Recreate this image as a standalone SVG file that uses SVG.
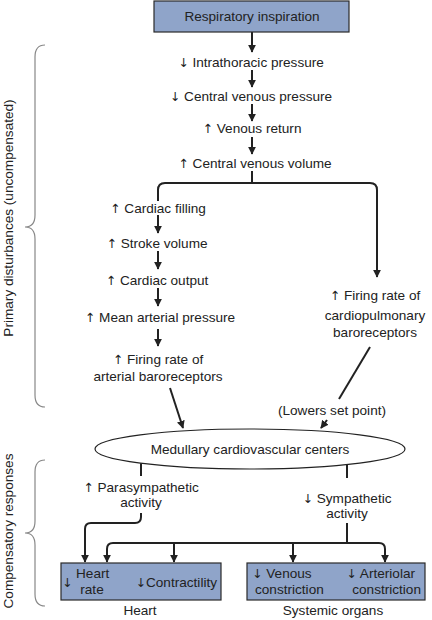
<svg xmlns="http://www.w3.org/2000/svg" width="432" height="620" viewBox="0 0 432 620">
<defs>
<style>
text{font-family:"Liberation Sans",Arial,sans-serif;font-size:13.6px;fill:#222;}
.m{text-anchor:middle;}
.e{text-anchor:end;}
.a{font-family:"DejaVu Sans",sans-serif;font-size:12.5px;fill:#222;}
.box{fill:#8fa4c9;stroke:#2a2a2a;stroke-width:1.2;}
.ln{fill:none;stroke:#222;stroke-width:2;}
.br{fill:none;stroke:#888;stroke-width:1.2;}
</style>
<marker id="ah" viewBox="0 0 10 10" refX="9" refY="5" markerWidth="4" markerHeight="4" orient="auto" markerUnits="strokeWidth">
<path d="M0,0 L10,5 L0,10 z" fill="#222"/>
</marker>
</defs>
<rect width="432" height="620" fill="#fff"/>

<g id="side-labels">
<path class="br" d="M45,45 Q35,45 35,57 L35,215 Q35,227 25,227 Q35,227 35,239 L35,395 Q35,407 45,407"/>
<path class="br" d="M45,460 Q35,460 35,472 L35,521 Q35,533 25,533 Q35,533 35,545 L35,594 Q35,606 45,606"/>
<text class="m" transform="translate(13,218) rotate(-90)">Primary disturbances (uncompensated)</text>
<text class="m" transform="translate(13,531) rotate(-90)">Compensatory responses</text>
</g>

<g id="connectors">
<path class="ln" d="M252,32 L252,52" marker-end="url(#ah)"/>
<path class="ln" d="M252,70 L252,87" marker-end="url(#ah)"/>
<path class="ln" d="M252,104 L252,121" marker-end="url(#ah)"/>
<path class="ln" d="M252,137 L252,154" marker-end="url(#ah)"/>
<path class="ln" d="M252,171 L252,183"/>
<path class="ln" d="M158,201 L158,190 Q158,183 165,183 L370,183 Q377,183 377,190 L377,277" marker-end="url(#ah)"/>
<path class="ln" d="M158,215 L158,233" marker-end="url(#ah)"/>
<path class="ln" d="M158,251 L158,269" marker-end="url(#ah)"/>
<path class="ln" d="M158,288 L158,306" marker-end="url(#ah)"/>
<path class="ln" d="M158,329 L158,346" marker-end="url(#ah)"/>
<path class="ln" d="M170,388 L183,428" marker-end="url(#ah)"/>
<path class="ln" d="M370,347 L339,399"/>
<path class="ln" d="M327,420 L321,428" marker-end="url(#ah)"/>
<path class="ln" d="M141,463 L141,476"/>
<path class="ln" d="M141,513 L141,517 Q141,523 135,523 L91,523 Q85,523 85,529 L85,562" marker-end="url(#ah)"/>
<path class="ln" d="M347,465 L347,478"/>
<path class="ln" d="M347,523 L347,543"/>
<path class="ln" d="M107,562 L107,549 Q107,543 113,543 L379,543 Q385,543 385,549 L385,562" marker-end="url(#ah)"/>
<path class="ln" d="M107,549 L107,562" marker-end="url(#ah)"/>
<path class="ln" d="M174,543 L174,562" marker-end="url(#ah)"/>
<path class="ln" d="M293,543 L293,562" marker-end="url(#ah)"/>
</g>

<g id="n-inspiration">
<rect class="box" x="154" y="1" width="195" height="31"/>
<text class="m" x="252" y="21">Respiratory inspiration</text>
</g>
<g id="n-intrathoracic"><text class="m" x="251" y="67"><tspan class="a">↓</tspan> Intrathoracic pressure</text></g>
<g id="n-cvp"><text class="m" x="251" y="101"><tspan class="a">↓</tspan> Central venous pressure</text></g>
<g id="n-venous-return"><text class="m" x="252" y="133"><tspan class="a">↑</tspan> Venous return</text></g>
<g id="n-cvv"><text class="m" x="255" y="168"><tspan class="a">↑</tspan> Central venous volume</text></g>
<g id="n-filling"><text class="m" x="158" y="213"><tspan class="a">↑</tspan> Cardiac filling</text></g>
<g id="n-stroke"><text class="m" x="157" y="248"><tspan class="a">↑</tspan> Stroke volume</text></g>
<g id="n-output"><text class="m" x="157" y="285"><tspan class="a">↑</tspan> Cardiac output</text></g>
<g id="n-map"><text class="m" x="160" y="322"><tspan class="a">↑</tspan> Mean arterial pressure</text></g>
<g id="n-arterial-baro">
<text class="m" x="158" y="364"><tspan class="a">↑</tspan> Firing rate of</text>
<text class="m" x="158" y="381">arterial baroreceptors</text>
</g>
<g id="n-cardiopulm-baro">
<text class="m" x="375" y="300"><tspan class="a">↑</tspan> Firing rate of</text>
<text class="m" x="375" y="320">cardiopulmonary</text>
<text class="m" x="375" y="337">baroreceptors</text>
</g>
<g id="n-setpoint"><text class="m" x="332" y="415">(Lowers set point)</text></g>
<g id="n-medullary">
<ellipse cx="250" cy="449" rx="155" ry="20" fill="#fff" stroke="#222" stroke-width="1.2"/>
<text class="m" x="250" y="454">Medullary cardiovascular centers</text>
</g>
<g id="n-parasym">
<text class="m" x="141" y="492"><tspan class="a">↑</tspan> Parasympathetic</text>
<text class="m" x="141" y="507">activity</text>
</g>
<g id="n-sym">
<text class="m" x="347" y="503"><tspan class="a">↓</tspan> Sympathetic</text>
<text class="m" x="347" y="518">activity</text>
</g>
<g id="n-heart">
<rect class="box" x="61" y="563" width="160" height="37"/>
<text x="62" y="587"><tspan class="a">↓</tspan></text>
<text x="76" y="578">Heart</text>
<text class="m" x="92" y="594">rate</text>
<text class="e" x="217" y="587"><tspan class="a">↓</tspan>Contractility</text>
<text class="m" x="140" y="615">Heart</text>
</g>
<g id="n-systemic">
<rect class="box" x="247" y="563" width="178" height="37"/>
<text x="252" y="578"><tspan class="a">↓</tspan> Venous</text>
<text x="255" y="594">constriction</text>
<text class="e" x="415" y="578"><tspan class="a">↓</tspan> Arteriolar</text>
<text class="e" x="421" y="594">constriction</text>
<text class="m" x="333" y="615">Systemic organs</text>
</g>
</svg>
